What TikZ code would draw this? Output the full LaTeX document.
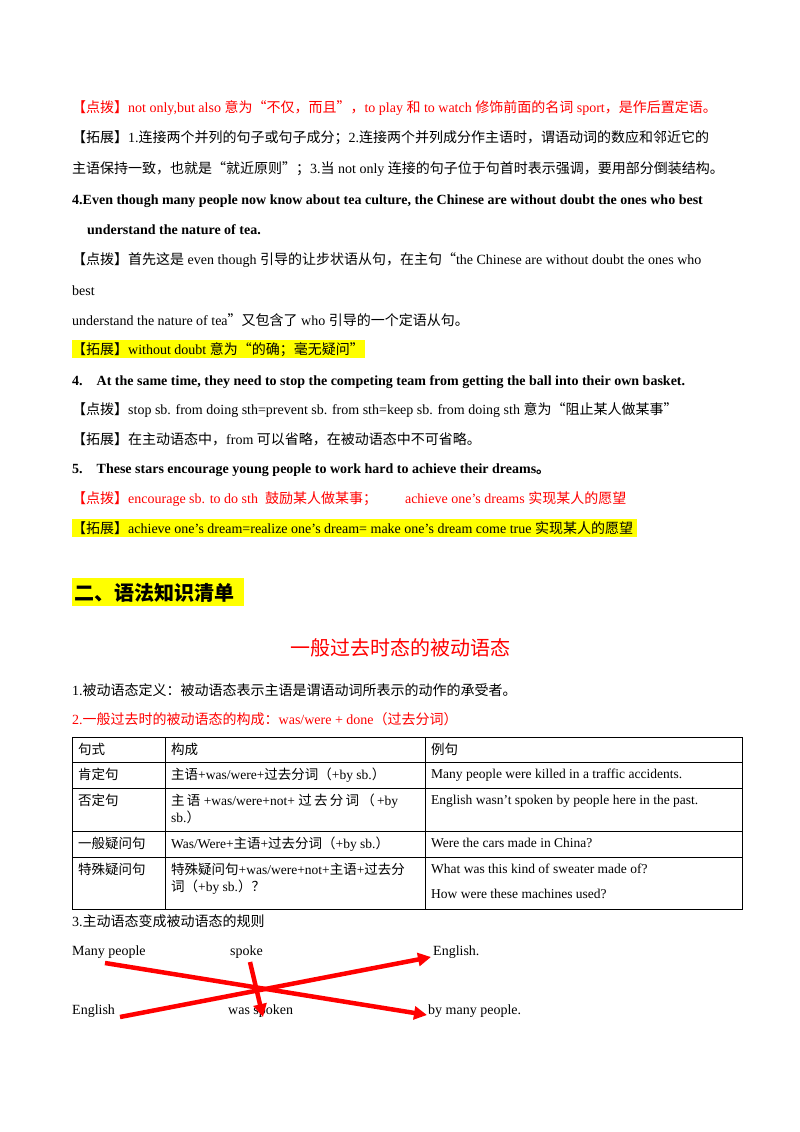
\documentclass[tikz,border=0pt]{standalone}
\usepackage{fontspec}
\setmainfont{Liberation Serif}
\newfontfamily\zhfont{Noto Sans CJK SC}
\newcommand\zh[1]{{\zhfont #1}}
\usetikzlibrary{arrows.meta}
\definecolor{tipred}{RGB}{255,0,0}
\definecolor{marker}{RGB}{255,255,0}
\begin{document}
\begin{tikzpicture}[x=1pt,y=-1pt,
  txt/.style={anchor=base west,inner sep=0pt,font=\fontsize{14}{16}\selectfont},
  cell/.style={txt,font=\fontsize{13.5}{15}\selectfont},
  rule/.style={line width=0.8pt},
  swap/.style={tipred,line width=4.5pt,-{Triangle[length=13pt,width=13pt]}}]
\useasboundingbox (0,0) rectangle (800,1132);

% notes on sentence 3
\node [txt,tipred] (n1) at (72,112) {\zh{【点拨】}not only,but also \zh{意为“不仅，而且”，}to play \zh{和} to watch \zh{修饰前面的名词} sport\zh{，是作后置定语。}};
\node [txt] (n2) at (72,142) {\zh{【拓展】}1.\zh{连接两个并列的句子或句子成分；}2.\zh{连接两个并列成分作主语时，谓语动词的数应和邻近它的}};
\node [txt] (n3) at (72,173) {\zh{主语保持一致，也就是“就近原则”；}3.\zh{当} not only \zh{连接的句子位于句首时表示强调，要用部分倒装结构。}};

% sentence 4
\node [txt,font=\fontsize{14}{16}\bfseries] (s4) at (72,204) {4.Even though many people now know about tea culture, the Chinese are without doubt the ones who best};
\node [txt,font=\fontsize{14}{16}\bfseries] (s4b) at (87,234) {understand the nature of tea.};
\node [txt] (n4) at (72,264) {\zh{【点拨】首先这是} even though \zh{引导的让步状语从句，在主句“}the Chinese are without doubt the ones who};
\node [txt] (n4b) at (72,295) {best};
\node [txt] (n4c) at (72,325) {understand the nature of tea\zh{”又包含了} who \zh{引导的一个定语从句。}};
\fill [marker] (72,340) rectangle (365,358);
\node [txt] (n5) at (72,354) {\zh{【拓展】}without doubt \zh{意为“的确；毫无疑问”}};

% sentence 4 (second)
\node [txt,font=\fontsize{14}{16}\bfseries] (s5) at (72,385) {4.\hspace{1em}At the same time, they need to stop the competing team from getting the ball into their own basket.};
\node [txt] (n6) at (72,414) {\zh{【点拨】}stop sb. from doing sth=prevent sb. from sth=keep sb. from doing sth \zh{意为“阻止某人做某事”}};
\node [txt] (n7) at (72,444) {\zh{【拓展】在主动语态中，}from \zh{可以省略，在被动语态中不可省略。}};

% sentence 5
\node [txt,font=\fontsize{14}{16}\bfseries] (s6) at (72,473) {5.\hspace{1em}These stars encourage young people to work hard to achieve their dreams\zh{。}};
\node [txt,tipred] (n8) at (72,503) {\zh{【点拨】}encourage sb. to do sth\hspace{0.5em}\zh{鼓励某人做某事；}\hspace{2em}achieve one’s dreams \zh{实现某人的愿望}};
\fill [marker] (72,519) rectangle (637,537);
\node [txt] (n9) at (72,533) {\zh{【拓展】}achieve one’s dream=realize one’s dream= make one’s dream come true \zh{实现某人的愿望}};

% section two
\fill [marker] (72,578) rectangle (244,606);
\node [txt,font=\fontsize{20}{22}\zhfont\bfseries] (sec) at (74,600) {二、语法知识清单};
\node [anchor=base,inner sep=0pt,tipred,font=\fontsize{20}{22}\zhfont] (title) at (400,655) {一般过去时态的被动语态};
\node [txt] (d1) at (72,695) {1.\zh{被动语态定义：被动语态表示主语是谓语动词所表示的动作的承受者。}};
\node [txt,tipred] (d2) at (72,724) {2.\zh{一般过去时的被动语态的构成：}was/were + done\zh{（过去分词）}};

% table
\draw [rule] (72,737) rectangle (742,909);
\foreach \y in {762,788,831,857} \draw [rule] (72,\y) -- (742,\y);
\foreach \x in {165,425} \draw [rule] (\x,737) -- (\x,909);
\node [cell] at (78,754) {\zh{句式}};
\node [cell] at (171,754) {\zh{构成}};
\node [cell] at (431,754) {\zh{例句}};
\node [cell] at (78,779) {\zh{肯定句}};
\node [cell] at (171,779) {\zh{主语}+was/were+\zh{过去分词（}+by sb.\zh{）}};
\node [cell] at (431,778) {Many people were killed in a traffic accidents.};
\node [cell] at (78,805) {\zh{否定句}};
\node [cell] at (171,805) {\zh{主\,语} +was/were+not+ \zh{过\,去\,分\,词\,（}\,+by};
\node [cell] at (171,822) {sb.\zh{）}};
\node [cell] at (431,804) {English wasn’t spoken by people here in the past.};
\node [cell] at (78,848) {\zh{一般疑问句}};
\node [cell] at (171,848) {Was/Were+\zh{主语}+\zh{过去分词（}+by sb.\zh{）}};
\node [cell] at (431,847) {Were the cars made in China?};
\node [cell] at (78,874) {\zh{特殊疑问句}};
\node [cell] at (171,874) {\zh{特殊疑问句}+was/were+not+\zh{主语}+\zh{过去分}};
\node [cell] at (171,891) {\zh{词（}+by sb.\zh{）？}};
\node [cell] at (431,873) {What was this kind of sweater made of?};
\node [cell] at (431,898) {How were these machines used?};

% rules of change
\node [txt] (d3) at (72,926) {3.\zh{主动语态变成被动语态的规则}};
\node [txt] (mp) at (72,955) {Many people};
\node [txt] (sp) at (230,955) {spoke};
\node [txt] (en) at (433,955) {English.};
\node [txt] (en2) at (72,1014) {English};
\node [txt] (ws) at (228,1014) {was spoken};
\node [txt] (bmp) at (428,1014) {by many people.};
\coordinate (mpT) at (105,963);
\coordinate (bmpT) at (427,1015);
\coordinate (en2T) at (120,1017);
\coordinate (enT) at (431,957);
\coordinate (spT) at (250,962);
\coordinate (wsT) at (263,1017);
\draw [swap] (mpT) -- (bmpT);
\draw [swap] (en2T) -- (enT);
\draw [swap] (spT) -- (wsT);
\end{tikzpicture}
\end{document}
